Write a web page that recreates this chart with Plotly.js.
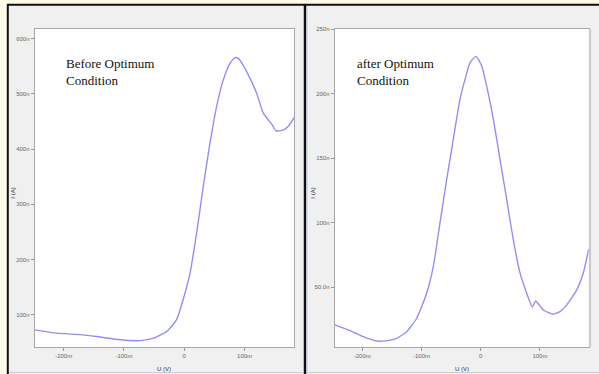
<!DOCTYPE html>
<html>
<head>
<meta charset="utf-8">
<script src="https://cdn.plot.ly/plotly-3.0.1.min.js"></script>
<style>html,body{margin:0;padding:0;background:#f0f0f0;}#chart{width:599px;height:374px;}</style>
</head>
<body>
<div id="chart"></div>
<script>
// Before optimum condition: U (mV) and I (nA)
const beforeU = [-248, -212, -168, -140, -106, -73, -51, -29, -13, -2, 9.5, 20.5, 31.5, 42.6, 53.7, 64.7, 75.8, 84, 89.6, 103.5, 120, 131, 145, 152, 164, 174, 182];
const beforeI = [73, 67, 64, 60, 55, 53.5, 58, 70, 91, 127, 175, 248, 332, 410, 477, 525, 555, 565, 564, 540, 501, 465, 445, 433, 434, 443, 457];
// After optimum condition
const afterU = [-246.6, -220.8, -198.3, -175.7, -157.8, -141.9, -125, -108.1, -91.2, -80, -68.8, -57.4, -46.3, -35, -26.5, -18, -8, 1.6, 10, 21.4, 32.6, 43.9, 55, 66.4, 77.7, 87.2, 92.9, 105.7, 121.6, 134, 145.3, 162.2, 173.3, 182.4];
const afterI = [20.7, 16.3, 11.6, 8.2, 8.5, 10.3, 15.5, 25.9, 45.3, 66, 99.8, 133.4, 164.5, 195.6, 211, 224, 228.8, 221.5, 206, 180, 149, 117.9, 86.8, 61, 45.3, 34.5, 39.3, 32.3, 29.2, 31, 36.2, 47.9, 61, 79.5];

const xTickVals = [-200, -100, 0, 100];
const xTickText = ['-200m', '-100m', '0', '100m'];
const yTickValsBefore = [100, 200, 300, 400, 500, 600];
const yTickTextBefore = ['100n', '200n', '300n', '400n', '500n', '600n'];
const yTickValsAfter = [50, 100, 150, 200, 250];
const yTickTextAfter = ['50.0n', '100n', '150n', '200n', '250n'];
const panelTitles = ['Before Optimum<br>Condition', 'after Optimum<br>Condition'];
const xTitle = 'U (V)';
const yTitle = 'I (A)';

const W = 599, H = 374;
const px = x => x / W;
const py = y => 1 - y / H;

const lineStyle = {color: '#9090f2', width: 1.4, shape: 'spline', smoothing: 0.5};
const traces = [
  {x: beforeU, y: beforeI, type: 'scatter', mode: 'lines', line: lineStyle, xaxis: 'x', yaxis: 'y', hoverinfo: 'skip', showlegend: false},
  {x: afterU, y: afterI, type: 'scatter', mode: 'lines', line: lineStyle, xaxis: 'x2', yaxis: 'y2', hoverinfo: 'skip', showlegend: false}
];

const tickFont = {family: 'Liberation Sans, Arial, sans-serif', size: 6, color: '#666'};
function axisBase() {
  return {
    showgrid: false, zeroline: false, showline: true, mirror: true,
    linecolor: '#a8a8a8', linewidth: 1, ticks: 'outside', ticklen: 3,
    tickcolor: '#999', tickwidth: 1, tickfont: tickFont, fixedrange: true, tickmode: 'array'
  };
}
const yDom = [py(347), py(29)];
const layout = {
  width: W, height: H,
  margin: {l: 0, r: 0, t: 0, b: 0},
  paper_bgcolor: '#f0f0f0', plot_bgcolor: '#ffffff',
  showlegend: false,
  xaxis: Object.assign(axisBase(), {domain: [px(34.7), px(294)], range: [-248, 182], anchor: 'y', tickvals: xTickVals, ticktext: xTickText}),
  yaxis: Object.assign(axisBase(), {domain: yDom, range: [42, 617], anchor: 'x', tickvals: yTickValsBefore, ticktext: yTickTextBefore}),
  xaxis2: Object.assign(axisBase(), {domain: [px(334.7), px(588.7)], range: [-246.6, 182.4], anchor: 'y2', tickvals: xTickVals, ticktext: xTickText}),
  yaxis2: Object.assign(axisBase(), {domain: yDom, range: [3.6, 250], anchor: 'x2', tickvals: yTickValsAfter, ticktext: yTickTextAfter}),
  shapes: [
    {type: 'rect', xref: 'paper', yref: 'paper', x0: 0, x1: px(6.5), y0: 0, y1: 1, fillcolor: '#fffbe8', line: {width: 0}, layer: 'below'},
    {type: 'rect', xref: 'paper', yref: 'paper', x0: 0, x1: 1, y0: py(3.5), y1: 1, fillcolor: '#fffbe8', line: {width: 0}, layer: 'below'},
    {type: 'line', xref: 'paper', yref: 'paper', x0: px(7.8), x1: px(7.8), y0: 0, y1: py(4), line: {color: '#111', width: 2}},
    {type: 'line', xref: 'paper', yref: 'paper', x0: px(7), x1: 1, y0: py(4.8), y1: py(4.8), line: {color: '#111', width: 2}},
    {type: 'line', xref: 'paper', yref: 'paper', x0: px(305), x1: px(305), y0: 0, y1: py(4), line: {color: '#111', width: 2.5}},
    {type: 'line', xref: 'paper', yref: 'paper', x0: px(306.8), x1: px(306.8), y0: 0, y1: py(6), line: {color: '#b4c0d2', width: 1}},
    {type: 'line', xref: 'paper', yref: 'paper', x0: px(9), x1: px(304), y0: py(372.5), y1: py(372.5), line: {color: '#c6ceda', width: 1}},
    {type: 'line', xref: 'paper', yref: 'paper', x0: px(307), x1: 1, y0: py(372.5), y1: py(372.5), line: {color: '#c6ceda', width: 1}},
    {type: 'line', xref: 'paper', yref: 'paper', x0: px(590), x1: px(590), y0: py(347), y1: py(29), line: {color: '#c8c8c8', width: 2}}
  ],
  annotations: [
    {xref: 'paper', yref: 'paper', x: px(64), y: py(54), xanchor: 'left', yanchor: 'top', align: 'left', showarrow: false,
     text: panelTitles[0], font: {family: 'Liberation Serif, Times New Roman, serif', size: 13, color: '#111'}},
    {xref: 'paper', yref: 'paper', x: px(354.5), y: py(54), xanchor: 'left', yanchor: 'top', align: 'left', showarrow: false,
     text: panelTitles[1], font: {family: 'Liberation Serif, Times New Roman, serif', size: 13, color: '#111'}},
    {xref: 'paper', yref: 'paper', x: px(163.5), y: py(369), xanchor: 'center', yanchor: 'middle', showarrow: false,
     text: xTitle, font: {family: 'Liberation Sans, Arial, sans-serif', size: 6, color: '#333'}},
    {xref: 'paper', yref: 'paper', x: px(461.5), y: py(369), xanchor: 'center', yanchor: 'middle', showarrow: false,
     text: xTitle, font: {family: 'Liberation Sans, Arial, sans-serif', size: 6, color: '#333'}},
    {xref: 'paper', yref: 'paper', x: px(12.7), y: py(193), xanchor: 'center', yanchor: 'middle', showarrow: false, textangle: -90,
     text: yTitle, font: {family: 'Liberation Sans, Arial, sans-serif', size: 6, color: '#222'}},
    {xref: 'paper', yref: 'paper', x: px(312.7), y: py(193), xanchor: 'center', yanchor: 'middle', showarrow: false, textangle: -90,
     text: yTitle, font: {family: 'Liberation Sans, Arial, sans-serif', size: 6, color: '#222'}}
  ]
};

Plotly.newPlot('chart', traces, layout, {staticPlot: true, displayModeBar: false});
</script>
</body>
</html>
